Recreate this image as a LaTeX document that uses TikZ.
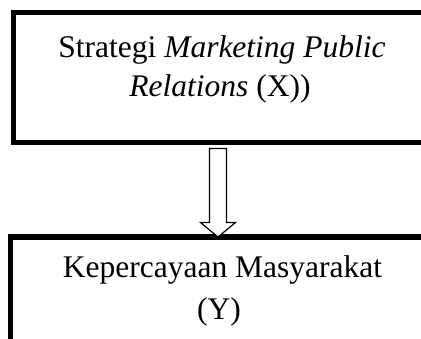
\documentclass[tikz,border=0pt]{standalone}
\usepackage{fontspec}
\setmainfont{Liberation Serif}
\usetikzlibrary{calc}
\begin{document}
\begin{tikzpicture}[x=1pt,y=-1pt,
  boxframe/.style={draw=black,line width=5.5pt,inner sep=0pt,outer sep=0pt},
  txt/.style={inner sep=0pt,font=\fontsize{31.5}{36}\selectfont,anchor=base},
  hollowarrow/.style={draw=black,line width=1.2pt,fill=white,line join=miter}]
\useasboundingbox (0,0) rectangle (421,339);
\begin{scope}
\clip (0,0) rectangle (421,339);
\node[boxframe,minimum width=440pt,minimum height=130pt,anchor=north west] (boxX) at (13.5,12.5) {};
\node[boxframe,minimum width=440pt,minimum height=150pt,anchor=north west] (boxY) at (10.5,237) {};
\end{scope}
\node[txt] (x1) at (222,58) {Strategi \textit{Marketing Public}};
\node[txt] (x2) at (220,97) {\textit{Relations} (X))};
\node[txt] (y1) at (222.5,278) {Kepercayaan Masyarakat};
\node[txt] (y2) at (219,320) {(Y)};
\coordinate (arrtop) at ($(boxX.south west)+(204.5,6)$);
\coordinate (arrtip) at ($(boxY.north west)+(207.5,0)$);
\draw[hollowarrow] ($(arrtop)+(-8.5,0)$) -- ($(arrtop)+(8.5,0)$) -- ($(arrtip)+(8.5,-14.5)$)
  -- ($(arrtip)+(17.5,-14.5)$) -- (arrtip) -- ($(arrtip)+(-17.5,-14.5)$)
  -- ($(arrtip)+(-8.5,-14.5)$) -- cycle;
\end{tikzpicture}
\end{document}
